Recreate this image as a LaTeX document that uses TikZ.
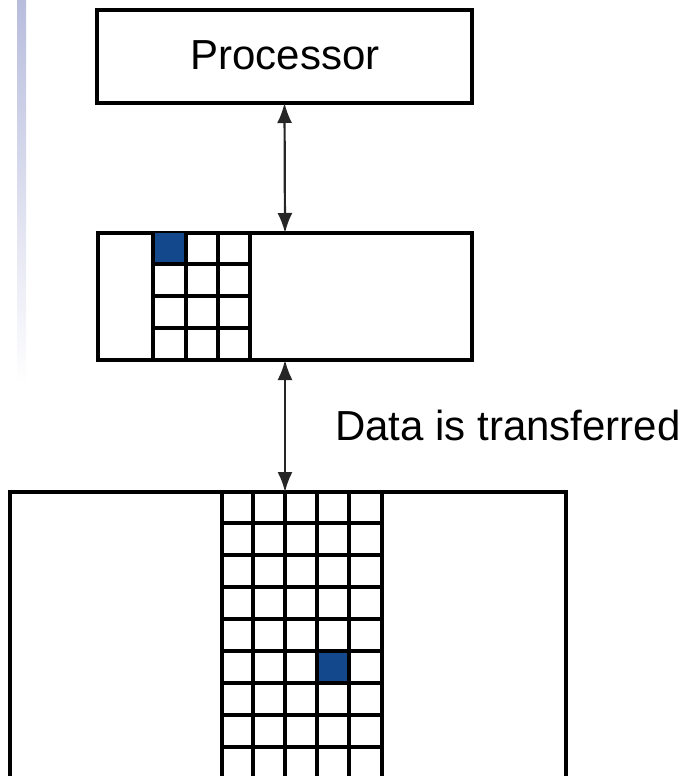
\documentclass[tikz,border=0pt]{standalone}
\usepackage{fontspec}
\setmainfont{Liberation Sans}
\usetikzlibrary{arrows.meta}
\definecolor{cellblue}{RGB}{20,72,140}
\definecolor{barblue}{RGB}{184,189,221}
\begin{document}
\begin{tikzpicture}[x=1pt,y=-1pt,
  box/.style={draw=black,line width=3.3pt,rectangle,inner sep=0pt,outer sep=0pt},
  gridline/.style={draw=black,line width=3.1pt},
  link/.style={draw=black!85,line width=2.2pt,{Latex[length=20pt,width=15pt]}-{Latex[length=20pt,width=15pt]}},
  lbl/.style={font=\fontsize{42}{50}\selectfont,inner sep=0pt}]
\clip (0,0) rectangle (684,776);
\shade[top color=barblue,bottom color=white] (17,0) rectangle (26,385);
% processor
\node[box,minimum width=375pt,minimum height=93pt] (proc) at (284.5,56.5) {};
\node[lbl,anchor=base] (proctext) at (285,70) {Processor};
% cache
\node[box,minimum width=374pt,minimum height=127pt] (cache) at (285,296.5) {};
\fill[cellblue] (153,233) rectangle (186,264);
\foreach \x in {153,186,218,250} \draw[gridline] (\x,233) -- (\x,360);
\foreach \y in {264,296,328} \draw[gridline] (153,\y) -- (250,\y);
% memory
\node[box,minimum width=556pt,minimum height=400pt] (mem) at (288,692) {};
\fill[cellblue] (317,651) rectangle (349,683);
\foreach \x in {222,253,285,317,349,382} \draw[gridline] (\x,492) -- (\x,790);
\foreach \y in {523,555,587,619,651,683,715,747} \draw[gridline] (222,\y) -- (382,\y);
% connectors
\draw[link] (proc.south) -- (cache.north);
\draw[link] (cache.south) -- (cache.south |- mem.north);
\node[lbl,anchor=base west] (datatext) at (335,440) {Data is transferred};
\end{tikzpicture}
\end{document}
